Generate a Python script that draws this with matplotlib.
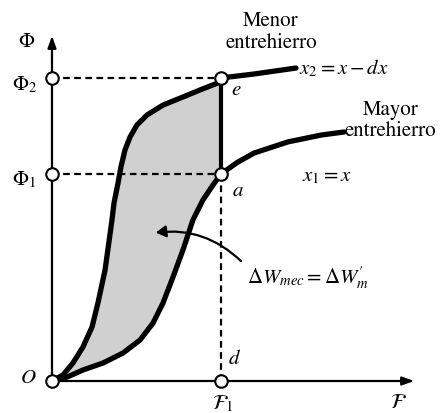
import numpy as np
import matplotlib
matplotlib.use("Agg")
import matplotlib.pyplot as plt
from matplotlib.patches import FancyArrowPatch

plt.rcParams['font.family'] = ['STIXGeneral', 'DejaVu Serif']
plt.rcParams['mathtext.fontset'] = 'stix'

# curva de menor entrehierro (x2 = x - dx), F normalizada a F1, flujo a Phi1
f_menor = [0.0, 0.065, 0.124, 0.183, 0.237, 0.272, 0.314, 0.355, 0.367, 0.391,
           0.408, 0.432, 0.462, 0.503, 0.562, 0.657, 0.775, 0.876, 0.982, 1.0,
           1.195, 1.444]
phi_menor = [0.0, 0.029, 0.087, 0.164, 0.261, 0.377, 0.536, 0.778, 0.860, 0.957,
             1.034, 1.116, 1.179, 1.237, 1.285, 1.333, 1.372, 1.406, 1.440, 1.464,
             1.483, 1.512]
# curva de mayor entrehierro (x1 = x)
f_mayor = [0.0, 0.089, 0.183, 0.302, 0.420, 0.521, 0.598, 0.657, 0.716, 0.775,
           0.834, 0.893, 0.953, 1.0, 1.095, 1.195, 1.396, 1.592, 1.728]
phi_mayor = [0.0, 0.019, 0.053, 0.087, 0.135, 0.198, 0.280, 0.377, 0.502, 0.633,
             0.778, 0.874, 0.947, 1.0, 1.055, 1.101, 1.155, 1.188, 1.203]

F1 = 1.0
phi1 = 1.0
phi2 = 1.464

f_menor = np.array(f_menor); phi_menor = np.array(phi_menor)
f_mayor = np.array(f_mayor); phi_mayor = np.array(phi_mayor)

fig = plt.figure(figsize=(4.42, 4.13), dpi=100)
ax = fig.add_axes([0, 0, 1, 1])
ax.set_xlim(-0.3077, 2.308)
ax.set_ylim(-0.1546, 1.8406)
ax.axis('off')

# area sombreada entre curvas hasta F1
m1 = f_menor <= F1
m2 = f_mayor <= F1
xs = np.concatenate([f_menor[m1], f_mayor[m2][::-1]])
ys = np.concatenate([phi_menor[m1], phi_mayor[m2][::-1]])
ax.fill(xs, ys, color='#d0d0d0', lw=0, zorder=1)

# ejes
ax.annotate('', xy=(2.16, 0), xytext=(0, 0),
            arrowprops=dict(arrowstyle='-|>,head_length=0.7,head_width=0.25', lw=1.6, color='k'), zorder=2)
ax.annotate('', xy=(0, 1.681), xytext=(0, 0),
            arrowprops=dict(arrowstyle='-|>,head_length=0.7,head_width=0.25', lw=1.6, color='k'), zorder=2)

# lineas discontinuas
ax.plot([0, F1], [phi2, phi2], ls=(0, (3, 2)), color='k', lw=1.6, zorder=2)
ax.plot([0, F1], [phi1, phi1], ls=(0, (3, 2)), color='k', lw=1.6, zorder=2)
ax.plot([F1, F1], [0, phi1], ls=(0, (3, 2)), color='k', lw=1.6, zorder=2)

# curvas
ax.plot(f_menor, phi_menor, color='k', lw=3.8, solid_capstyle='round', solid_joinstyle='round', zorder=3)
ax.plot(f_mayor, phi_mayor, color='k', lw=3.8, solid_capstyle='round', solid_joinstyle='round', zorder=3)
ax.plot([F1, F1], [phi1, phi2], color='k', lw=3.0, zorder=3)

# circulos
cx = [0, 0, 0, F1, F1, F1]
cy = [0, phi1, phi2, phi1, phi2, 0]
ax.plot(cx, cy, 'o', ms=9, mfc='white', mec='k', mew=1.5, zorder=4)

# flecha curva
arr = FancyArrowPatch((1.130, 0.570), (0.598, 0.715), connectionstyle='arc3,rad=0.25',
                      arrowstyle='-|>,head_length=6,head_width=3.5', lw=1.6, color='k', zorder=5)
ax.add_patch(arr)

fs = 15
ax.text(-0.15, 1.635, r'$\Phi$', fontsize=fs, ha='center', va='center')
ax.text(-0.165, 1.43, r'$\Phi_2$', fontsize=fs, ha='center', va='center')
ax.text(-0.165, 0.97, r'$\Phi_1$', fontsize=fs, ha='center', va='center')
ax.text(-0.14, 0.015, r'$O$', fontsize=fs, ha='center', va='center')
ax.text(1.01, -0.11, r'$\mathcal{F}_1$', fontsize=fs, ha='center', va='center')
ax.text(2.05, -0.105, r'$\mathcal{F}$', fontsize=fs, ha='center', va='center')
ax.text(1.08, 0.105, r'$d$', fontsize=fs, ha='center', va='center')
ax.text(1.1, 0.915, r'$a$', fontsize=fs, ha='center', va='center')
ax.text(1.09, 1.405, r'$e$', fontsize=fs, ha='center', va='center')
ax.text(1.296, 1.74, 'Menor', fontsize=fs, ha='center', va='center')
ax.text(1.296, 1.633, 'entrehierro', fontsize=fs, ha='center', va='center')
ax.text(1.46, 1.51, r'$x_2 = x - dx$', fontsize=fs, ha='left', va='center')
ax.text(2.006, 1.31, 'Mayor', fontsize=fs, ha='center', va='center')
ax.text(1.73, 1.205, 'entrehierro', fontsize=fs, ha='left', va='center')
ax.text(1.48, 0.99, r'$x_1 = x$', fontsize=fs, ha='left', va='center')
ax.text(1.155, 0.5, r"$\Delta W_{mec} = \Delta W_m^{\prime}$", fontsize=fs, ha='left', va='center')

fig.savefig('out.png', dpi=100)
